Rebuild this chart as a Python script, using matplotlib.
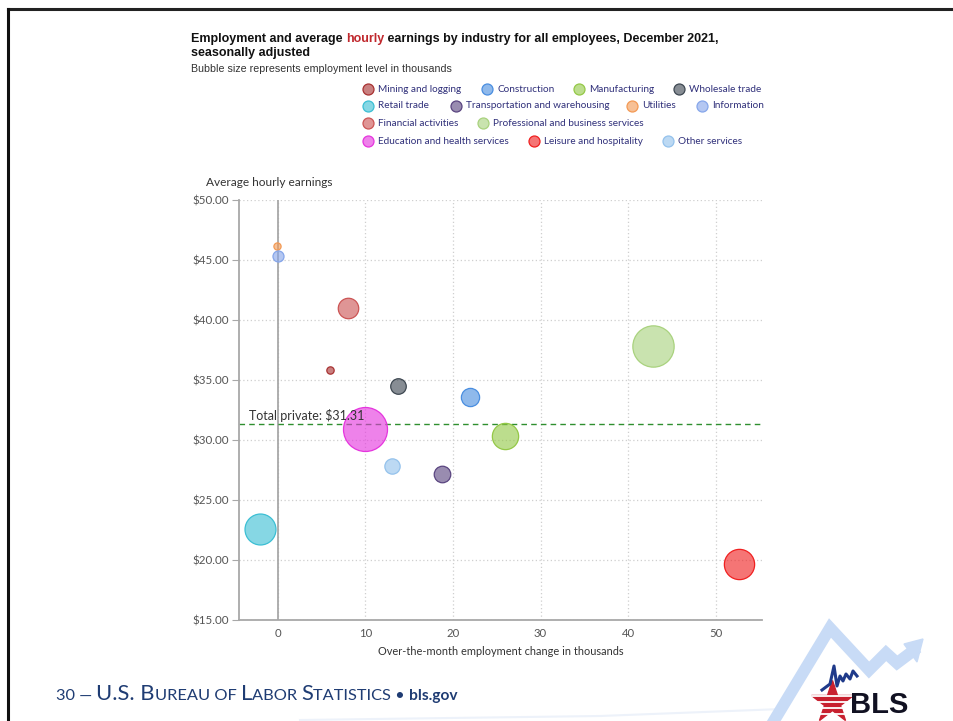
import matplotlib
matplotlib.use("Agg")
import matplotlib.pyplot as plt
from matplotlib.lines import Line2D
from matplotlib.patches import Polygon

# data
industries = [
    "Mining and logging", "Construction", "Manufacturing", "Wholesale trade",
    "Retail trade", "Transportation and warehousing", "Utilities", "Information",
    "Financial activities", "Professional and business services",
    "Education and health services", "Leisure and hospitality", "Other services",
]
emp_change = [5.9, 21.9, 25.9, 13.7, -2.1, 18.7, -0.1, 0.0, 8.0, 42.9, 9.9, 52.7, 13.0]
hourly_earnings = [35.83, 33.60, 30.30, 34.47, 22.60, 27.17, 46.19, 45.36,
                   41.00, 37.86, 30.89, 19.67, 27.83]
employment_level = [628, 7479, 12541, 5788, 15478, 6416, 539, 2946,
                    8880, 21963, 23666, 15040, 5629]
total_private = 31.31

y_ticks = [15, 20, 25, 30, 35, 40, 45, 50]
x_ticks = [0, 10, 20, 30, 40, 50]

colors = ["#a83232", "#4a8ee0", "#94c847", "#3e4852", "#3cbfd4", "#5a4580",
          "#f39a55", "#86a6ea", "#cc5555", "#a9d27e", "#e535de", "#f02020",
          "#94c2ec"]

# legend layout (pixel x of the marker, row y)
legend_pos = [(368, 89), (487, 89), (579, 89), (679, 89),
              (368, 106), (456, 106), (632, 106), (702, 106),
              (368, 123), (483, 123),
              (368, 141), (534, 141), (668, 141)]

W, H = 954, 721
fig = plt.figure(figsize=(W / 100, H / 100), dpi=100)
PX = 72 / 100  # points per pixel


def fx(px):
    return px / W


def fy(py):
    return 1 - py / H


def seq_text(x_px, y_px, parts, **kw):
    """Draw text segments one after the other on a baseline."""
    renderer = fig.canvas.get_renderer()
    x = fx(x_px)
    for s, props in parts:
        t = fig.text(x, fy(y_px), s, va="baseline", **{**kw, **props})
        bb = t.get_window_extent(renderer)
        x = bb.x1 / fig.bbox.width


ax = fig.add_axes([fx(239), fy(620), fx(762) - fx(239), fy(200) - fy(620)])
ax.set_xlim(-4.45, 55.3)
ax.set_ylim(15, 50)

# bubble radius in pixels, linear in employment level
r_min, r_max = 3.6, 22.0
lo, hi = min(employment_level), max(employment_level)
radii = [r_min + (r_max - r_min) * (v - lo) / (hi - lo) for v in employment_level]
sizes = [(2 * r * PX) ** 2 for r in radii]

ax.axhline(total_private, color="#2f8f2f", lw=1.0, ls=(0, (4, 3)), zorder=2)
ax.axvline(0, color="#a8a8a8", lw=1.3, zorder=1)
for x, y, s, c in zip(emp_change, hourly_earnings, sizes, colors):
    ax.scatter(x, y, s=s, facecolor=matplotlib.colors.to_rgba(c, 0.62),
               edgecolor=c, linewidth=0.9, zorder=3)

ax.annotate(f"Total private: ${total_private:.2f}", xy=(-3.3, total_private),
            xytext=(0, 1.5), textcoords="offset points", ha="left", va="bottom",
            fontsize=9, family="Lato", color="#333333", zorder=5)

ax.set_xticks(x_ticks)
ax.set_yticks(y_ticks)
ax.set_yticklabels([f"${v:.2f}" for v in y_ticks])
ax.grid(True, ls=(0, (1, 2)), color="#cfcfcf", lw=0.9, zorder=0)
ax.set_axisbelow(True)
for side in ["top", "right"]:
    ax.spines[side].set_visible(False)
for side in ["left", "bottom"]:
    ax.spines[side].set_color("#a8a8a8")
    ax.spines[side].set_linewidth(1.3)
ax.tick_params(axis="y", length=5, color="#a8a8a8", labelsize=8.4, labelcolor="#555555", pad=2)
ax.tick_params(axis="x", length=0, labelsize=8.2, labelcolor="#555555", pad=6)
for lab in ax.get_xticklabels() + ax.get_yticklabels():
    lab.set_family("Lato")
ax.set_xlabel("Over-the-month employment change in thousands", family="Lato",
              fontsize=7.9, color="#333333", labelpad=5)
fig.text(fx(206), fy(183), "Average hourly earnings", family="Lato",
         fontsize=8.6, color="#333333", va="center", ha="left")

# title and subtitle
seq_text(191, 42, [("Employment and average ", {}),
                   ("hourly", {"color": "#c0282d"}),
                   (" earnings by industry for all employees, December 2021,", {})],
         family="Liberation Sans", fontsize=9.0, fontweight="bold", color="#111111")
fig.text(fx(191), fy(56), "seasonally adjusted", family="Liberation Sans",
         fontsize=9.0, fontweight="bold", color="#111111", va="baseline")
fig.text(fx(191), fy(72), "Bubble size represents employment level in thousands",
         family="Liberation Sans", fontsize=7.7, color="#333333", va="baseline")

# legend
for name, c, (lx, ly) in zip(industries, colors, legend_pos):
    fig.add_artist(Line2D([fx(lx)], [fy(ly)], marker="o", ms=11 * PX,
                          mfc=matplotlib.colors.to_rgba(c, 0.62), mec=c,
                          mew=0.9, transform=fig.transFigure))
    fig.text(fx(lx + 10), fy(ly), name, family="Lato", fontsize=7.2,
             color="#30307a", va="center", ha="left")

# slide frame
fig.add_artist(Line2D([fx(8), fx(954)], [fy(9), fy(9)], color="#222222", lw=2.2,
                      transform=fig.transFigure))
fig.add_artist(Line2D([fx(8), fx(8)], [fy(9), fy(721)], color="#111111", lw=2.2,
                      transform=fig.transFigure))

# background arrow of the logo
band_x = [300, 600, 782, 830, 869, 886, 897, 913]
band_y = [720, 716, 709, 628, 670, 653, 663, 651]
fig.add_artist(Line2D([fx(v) for v in band_x[:3]], [fy(v) for v in band_y[:3]],
                      color="#edf2fa", lw=1.5, transform=fig.transFigure))
fig.add_artist(Line2D([fx(v) for v in [772] + band_x[3:]],
                      [fy(v) for v in [724] + band_y[3:]],
                      color="#c8dbf6", lw=8.5, solid_joinstyle="miter",
                      transform=fig.transFigure))
fig.add_artist(Polygon([(fx(904), fy(644)), (fx(923), fy(639)), (fx(917), fy(662))],
                       closed=True, color="#c8dbf6", transform=fig.transFigure))

# BLS logo
fig.add_artist(Line2D([fx(832)], [fy(702)], marker="*", ms=44 * PX, color="#c8202f",
                      mec="#c8202f", transform=fig.transFigure))
for yy in [696, 702, 708, 714]:
    fig.add_artist(Line2D([fx(812), fx(852)], [fy(yy), fy(yy)], color="white",
                          lw=1.3, transform=fig.transFigure))
seis_x = [822, 830, 834, 837, 840, 843, 846, 850, 853, 857]
seis_y = [690, 684, 666, 686, 676, 681, 674, 679, 671, 676]
fig.add_artist(Line2D([fx(v) for v in seis_x], [fy(v) for v in seis_y],
                      color="#1f3a8a", lw=2.2, transform=fig.transFigure))
fig.text(fx(879), fy(713), "BLS", family="Liberation Sans",
         fontsize=21, fontweight="bold", color="#111122", ha="center", va="baseline")

# footer
navy = "#1f3c73"
seq_text(56, 700, [("30 \u2014 ", {"fontsize": 11.8}), ("U.S. B", {"fontsize": 15.8}),
                   ("UREAU OF ", {"fontsize": 11.8}), ("L", {"fontsize": 15.8}),
                   ("ABOR ", {"fontsize": 11.8}), ("S", {"fontsize": 15.8}),
                   ("TATISTICS \u2022 ", {"fontsize": 11.8}),
                   ("bls.gov", {"fontsize": 11.2, "fontweight": "bold"})],
         family="Lato", color=navy)

fig.savefig("out.png", dpi=100)
